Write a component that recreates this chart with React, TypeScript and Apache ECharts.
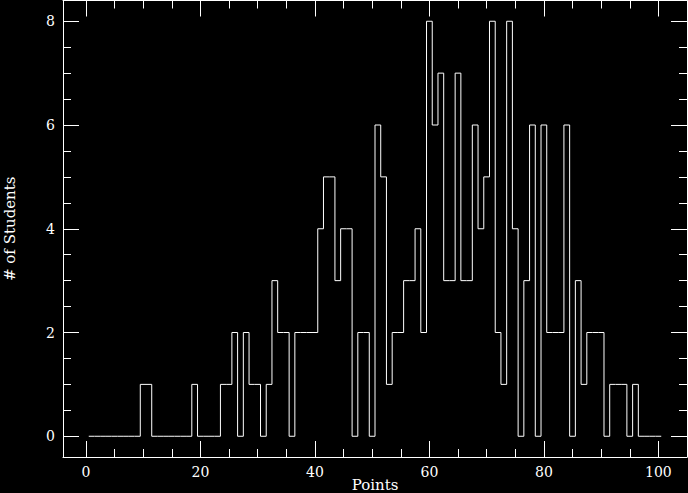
import React, { useEffect, useRef } from "react";
import * as echarts from "echarts";

// Histogram: number of students per point score (bins of width 1, centred on 1..100)
const firstBinCenter = 1;
const binWidth = 1;
const counts = [
  0, 0, 0, 0, 0, 0, 0, 0, 0, // 1-9
  1, 1, // 10-11
  0, 0, 0, 0, 0, 0, 0, // 12-18
  1, // 19
  0, 0, 0, 0, // 20-23
  1, 1, // 24-25
  2, 0, 2, // 26-28
  1, 1, // 29-30
  0, 1, 3, // 31-33
  2, 2, // 34-35
  0, // 36
  2, 2, 2, 2, // 37-40
  4, 5, 5, 3, 4, 4, // 41-46
  0, 2, 2, 0, // 47-50
  6, 5, 1, 2, 2, 3, 3, 4, 2, // 51-59
  8, 6, 7, 3, 3, 7, 3, 3, 6, 4, 5, 8, // 60-71
  2, 1, 8, 4, 0, 3, 6, 0, 6, // 72-80
  2, 2, 2, 6, 0, 3, 1, // 81-87
  2, 2, 2, 0, // 88-91
  1, 1, 1, 0, 1, // 92-96
  0, 0, 0, 0, // 97-100
];

const xMajorTicks = [0, 20, 40, 60, 80, 100];
const xMinorTicks = [5, 10, 15, 25, 30, 35, 45, 50, 55, 65, 70, 75, 85, 90, 95];
const yMajorTicks = [0, 2, 4, 6, 8];
const yMinorTicks = [0.5, 1, 1.5, 2.5, 3, 3.5, 4.5, 5, 5.5, 6.5, 7, 7.5];

const xMin = -4;
const xMax = 105;
const yMin = -0.4;
const yMax = 8.4;

const FONT = "DejaVu Serif";
const WHITE = "#ffffff";

export default function App() {
  const ref = useRef<HTMLDivElement>(null);

  useEffect(() => {
    if (!ref.current) return;
    const chart = echarts.init(ref.current, undefined, { renderer: "svg" });

    const stepPoints: [number, number][] = [];
    counts.forEach((v, i) => {
      const c = firstBinCenter + i * binWidth;
      stepPoints.push([c - binWidth / 2, v]);
      stepPoints.push([c + binWidth / 2, v]);
    });

    const lineStyle = { color: WHITE, width: 1 };

    const xAxisBase = (position: "top" | "bottom") => ({
      type: "value" as const,
      min: xMin,
      max: xMax,
      position,
      splitLine: { show: false },
    });
    const yAxisBase = (position: "left" | "right") => ({
      type: "value" as const,
      min: yMin,
      max: yMax,
      position,
      splitLine: { show: false },
    });

    chart.setOption({
      animation: false,
      backgroundColor: "#000000",
      grid: {
        left: 63,
        right: 1,
        top: 0.5,
        bottom: 36,
        containLabel: false,
        outerBoundsMode: "none",
      },
      xAxis: [
        {
          ...xAxisBase("bottom"),
          axisLine: { show: true, onZero: false, lineStyle },
          axisTick: { show: true, inside: true, length: 16, customValues: xMajorTicks, lineStyle },
          axisLabel: {
            show: true,
            customValues: xMajorTicks,
            color: WHITE,
            fontFamily: FONT,
            fontSize: 14,
            margin: 8,
          },
          name: "Points",
          nameLocation: "middle",
          nameGap: 20,
          nameMoveOverlap: false,
          nameTextStyle: { color: WHITE, fontFamily: FONT, fontSize: 15 },
        },
        {
          ...xAxisBase("bottom"),
          axisLine: { show: false, onZero: false },
          axisTick: { show: true, inside: true, length: 8, customValues: xMinorTicks, lineStyle },
          axisLabel: { show: false },
        },
        {
          ...xAxisBase("top"),
          axisLine: { show: true, onZero: false, lineStyle },
          axisTick: { show: true, inside: true, length: 16, customValues: xMajorTicks, lineStyle },
          axisLabel: { show: false },
        },
        {
          ...xAxisBase("top"),
          axisLine: { show: false, onZero: false },
          axisTick: { show: true, inside: true, length: 8, customValues: xMinorTicks, lineStyle },
          axisLabel: { show: false },
        },
      ],
      yAxis: [
        {
          ...yAxisBase("left"),
          axisLine: { show: true, onZero: false, lineStyle },
          axisTick: { show: true, inside: true, length: 16, customValues: yMajorTicks, lineStyle },
          axisLabel: {
            show: true,
            customValues: yMajorTicks,
            color: WHITE,
            fontFamily: FONT,
            fontSize: 14,
            margin: 8,
          },
          name: "# of Students",
          nameLocation: "middle",
          nameGap: 46,
          nameMoveOverlap: false,
          nameTextStyle: { color: WHITE, fontFamily: FONT, fontSize: 15 },
        },
        {
          ...yAxisBase("left"),
          axisLine: { show: false, onZero: false },
          axisTick: { show: true, inside: true, length: 8, customValues: yMinorTicks, lineStyle },
          axisLabel: { show: false },
        },
        {
          ...yAxisBase("right"),
          axisLine: { show: true, onZero: false, lineStyle },
          axisTick: { show: true, inside: true, length: 16, customValues: yMajorTicks, lineStyle },
          axisLabel: { show: false },
        },
        {
          ...yAxisBase("right"),
          axisLine: { show: false, onZero: false },
          axisTick: { show: true, inside: true, length: 8, customValues: yMinorTicks, lineStyle },
          axisLabel: { show: false },
        },
      ],
      series: [
        {
          type: "line",
          xAxisIndex: 0,
          yAxisIndex: 0,
          data: stepPoints,
          showSymbol: false,
          symbol: "none",
          lineStyle: { color: WHITE, width: 1 },
          silent: true,
        },
      ],
    });

    return () => chart.dispose();
  }, []);

  return (
    <div
      ref={ref}
      style={{ position: "absolute", left: 0, top: 0, width: 688, height: 493, background: "#000" }}
    />
  );
}
